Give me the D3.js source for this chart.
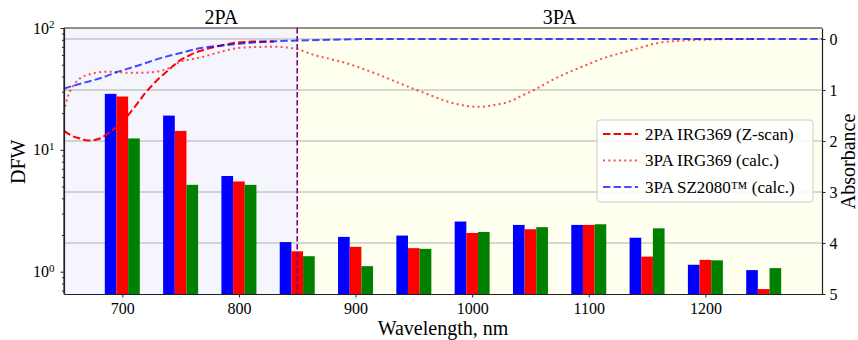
<!DOCTYPE html>
<html>
<head>
<meta charset="utf-8">
<script src="https://d3js.org/d3.v7.min.js"></script>
<style>
    body { margin: 0; background: #fff; }
    text { font-family: "Liberation Serif", "DejaVu Serif", serif; fill: #000; }
</style>
</head>
<body>
<svg width="858" height="340"></svg>
<script>
// bar groups (nm) and DFW values per series
const wavelengths = [700, 750, 800, 850, 900, 950, 1000, 1050, 1100, 1150, 1200, 1250];
const dfwBlue  = [28.8, 19.1, 6.1, 1.75, 1.93, 1.98, 2.58, 2.42, 2.42, 1.90, 1.14, 1.03];
const dfwRed   = [27.4, 14.3, 5.5, 1.47, 1.60, 1.56, 2.08, 2.23, 2.42, 1.33, 1.25, 0.72];
const dfwGreen = [12.4, 5.16, 5.16, 1.34, 1.11, 1.54, 2.12, 2.32, 2.45, 2.27, 1.24, 1.07];

// absorbance curves (right axis)
const zscanWl  = [650, 657, 663.6, 670.5, 676, 680.8, 686, 692, 698, 704, 710, 715, 720, 726, 732, 738, 744, 749.5, 756, 762, 769, 776, 784, 791, 798, 805, 812, 820, 830];
const zscanAbs = [1.80, 1.90, 1.95, 1.99, 1.98, 1.95, 1.88, 1.78, 1.66, 1.52, 1.35, 1.20, 1.05, 0.90, 0.76, 0.64, 0.52, 0.42, 0.34, 0.27, 0.22, 0.17, 0.13, 0.10, 0.07, 0.06, 0.05, 0.05, 0.05];

const irgWl  = [650.9, 653, 655, 659.4, 666, 672, 678, 689, 704, 717.7, 732, 741, 749.5, 759, 769, 783, 798, 812, 827, 838, 850, 864, 878, 893, 907, 921, 935, 949, 964, 978, 992, 1005, 1020, 1035, 1041, 1055.6, 1069, 1084, 1098, 1112, 1127, 1144, 1161, 1175, 1190, 1205, 1219, 1245];
const irgAbs = [1.33, 1.15, 1.03, 0.87, 0.74, 0.69, 0.66, 0.64, 0.66, 0.66, 0.63, 0.56, 0.45, 0.40, 0.35, 0.26, 0.18, 0.16, 0.15, 0.16, 0.20, 0.31, 0.39, 0.48, 0.59, 0.71, 0.84, 0.97, 1.10, 1.22, 1.30, 1.33, 1.29, 1.20, 1.13, 0.97, 0.80, 0.64, 0.51, 0.38, 0.28, 0.17, 0.07, 0.04, 0.02, 0.01, 0.0, 0.0];

const szWl  = [650, 665, 681, 698, 715, 732, 749, 769, 784, 798, 812, 827, 850, 878, 910, 1000, 1100, 1200, 1300];
const szAbs = [0.97, 0.87, 0.77, 0.63, 0.51, 0.38, 0.28, 0.17, 0.13, 0.10, 0.07, 0.05, 0.03, 0.015, 0.0, 0.0, 0.0, 0.0, 0.0];

const regionNames = ["2PA", "3PA"];
const regionBounds = [650, 850, 1300];
const regionColors = ["#f4f5fd", "#fffff0"];

const xTicks = [700, 800, 900, 1000, 1100, 1200];
const absTicks = [0, 1, 2, 3, 4, 5];
const dfwTicks = [1, 10, 100];

const margin = {top: 28, right: 36, bottom: 46, left: 64},
      width = 858 - margin.left - margin.right,
      height = 340 - margin.top - margin.bottom;

const svg = d3.select("svg").append("g")
    .attr("transform", "translate(" + margin.left + "," + margin.top + ")");

const x = d3.scaleLinear().domain([650, 1300]).range([0, width]);
const y = d3.scaleLog().domain([0.656, 100]).range([height, 0]);
const yAbs = d3.scaleLinear().domain([-0.216, 5]).range([0, height]);

// shaded regions
regionNames.forEach((name, i) => {
    svg.append("rect")
        .attr("x", x(regionBounds[i]))
        .attr("y", 0)
        .attr("width", x(regionBounds[i + 1]) - x(regionBounds[i]))
        .attr("height", height)
        .attr("fill", regionColors[i]);
});

// grid from absorbance axis
svg.append("g").selectAll("line")
    .data(absTicks.slice(0, 5))
    .enter().append("line")
    .attr("x1", 0).attr("x2", width)
    .attr("y1", d => yAbs(d)).attr("y2", d => yAbs(d))
    .attr("stroke", "#b0b0b0")
    .attr("stroke-width", 1.2);

// bars
const series = [
    {vals: dfwBlue, color: "#0000ff", off: -10},
    {vals: dfwRed, color: "#ff0000", off: 0},
    {vals: dfwGreen, color: "#008000", off: 10}
];
series.forEach(s => {
    svg.append("g").selectAll("rect")
        .data(wavelengths.map((w, i) => ({w: w, v: s.vals[i]})))
        .enter().append("rect")
        .attr("x", d => x(d.w + s.off - 5))
        .attr("width", d => x(d.w + s.off + 5) - x(d.w + s.off - 5))
        .attr("y", d => y(d.v))
        .attr("height", d => height - y(d.v))
        .attr("fill", s.color);
});

// curves
const line = d3.line()
    .x(d => x(d[0]))
    .y(d => yAbs(d[1]))
    .curve(d3.curveMonotoneX);

const curves = [
    {wl: zscanWl, ab: zscanAbs, color: "#ff0000", dash: "7.4,3.2", op: 1, label: "2PA IRG369 (Z-scan)"},
    {wl: irgWl, ab: irgAbs, color: "#ff0000", dash: "2,3.3", op: 0.7, label: "3PA IRG369 (calc.)"},
    {wl: szWl, ab: szAbs, color: "#0000ff", dash: "7.4,3.2", op: 0.7, label: "3PA SZ2080\u2122 (calc.)"}
];
curves.forEach(c => {
    svg.append("path")
        .datum(c.wl.map((w, i) => [w, c.ab[i]]))
        .attr("d", line)
        .attr("fill", "none")
        .attr("stroke", c.color)
        .attr("stroke-opacity", c.op)
        .attr("stroke-width", 2)
        .attr("stroke-dasharray", c.dash);
});

// divider at 850 nm
svg.append("line")
    .attr("x1", x(850)).attr("x2", x(850))
    .attr("y1", 0).attr("y2", height)
    .attr("stroke", "#800080")
    .attr("stroke-width", 1.6)
    .attr("stroke-dasharray", "5.5,2.5");

// region labels above the plot
[785, 1075].forEach((w, i) => {
    svg.append("text")
        .attr("x", x(w))
        .attr("y", -4)
        .attr("text-anchor", "middle")
        .style("font-size", "20px")
        .text(regionNames[i]);
});

// legend
const lg = svg.append("g").attr("transform", "translate(" + (597 - margin.left) + "," + (120 - margin.top) + ")");
lg.append("rect")
    .attr("width", 216).attr("height", 82)
    .attr("rx", 3)
    .attr("fill", "#ffffff").attr("fill-opacity", 0.85)
    .attr("stroke", "#cccccc").attr("stroke-width", 1);
curves.forEach((c, i) => {
    const yy = 14 + i * 26.5;
    lg.append("line")
        .attr("x1", 6).attr("x2", 41)
        .attr("y1", yy).attr("y2", yy)
        .attr("stroke", c.color)
        .attr("stroke-opacity", c.op)
        .attr("stroke-width", 2)
        .attr("stroke-dasharray", c.dash);
    lg.append("text")
        .attr("x", 48).attr("y", yy)
        .attr("dy", "0.35em")
        .style("font-size", "17px")
        .text(c.label);
});

// axes
const xAxis = svg.append("g")
    .attr("transform", "translate(0," + height + ")")
    .call(d3.axisBottom(x).tickValues(xTicks).tickFormat(d3.format("d")).tickSize(3.5).tickPadding(5).tickSizeOuter(0));

const minor = [];
[0.1, 1, 10].forEach(dec => {
    for (let k = 2; k <= 9; k++) {
        const v = dec * k;
        if (v >= 0.656 && v <= 100) minor.push(v);
    }
});
svg.append("g")
    .call(d3.axisLeft(y).tickValues(minor).tickSize(2).tickFormat("").tickSizeOuter(0))
    .select(".domain").remove();

const yAxis = svg.append("g")
    .call(d3.axisLeft(y).tickValues(dfwTicks).tickSize(3.5).tickPadding(6).tickSizeOuter(0));
yAxis.selectAll(".tick text")
    .text(null)
    .each(function(d) {
        const t = d3.select(this);
        t.append("tspan").text("10");
        t.append("tspan").attr("dy", "-0.5em").style("font-size", "11px").text(Math.round(Math.log10(d)));
    });

const aAxis = svg.append("g")
    .attr("transform", "translate(" + width + ",0)")
    .call(d3.axisRight(yAbs).tickValues(absTicks).tickFormat(d3.format("d")).tickSize(3.5).tickPadding(4).tickSizeOuter(0));

[xAxis, yAxis, aAxis].forEach(a => a.attr("font-family", null).attr("font-size", 16));

svg.selectAll(".domain").attr("stroke", "#222").attr("stroke-width", 1.2);
svg.selectAll(".tick line").attr("stroke", "#222");

// frame (top spine)
svg.append("line")
    .attr("x1", 0).attr("x2", width).attr("y1", 0).attr("y2", 0)
    .attr("stroke", "#222").attr("stroke-width", 1.2);
svg.append("line")
    .attr("x1", 0).attr("x2", 0).attr("y1", 0).attr("y2", height)
    .attr("stroke", "#222").attr("stroke-width", 1.2);

// axis labels
svg.append("text")
    .attr("x", width / 2)
    .attr("y", height + 41)
    .attr("text-anchor", "middle")
    .style("font-size", "20px")
    .text("Wavelength, nm");

svg.append("text")
    .attr("transform", "rotate(-90)")
    .attr("x", -(y(10) + 12))
    .attr("y", 25 - margin.left)
    .attr("text-anchor", "middle")
    .style("font-size", "20px")
    .text("DFW");

svg.append("text")
    .attr("transform", "rotate(-90)")
    .attr("x", -(yAbs(2.4)))
    .attr("y", width + 33)
    .attr("text-anchor", "middle")
    .style("font-size", "20px")
    .text("Absorbance");
</script>
</body>
</html>
